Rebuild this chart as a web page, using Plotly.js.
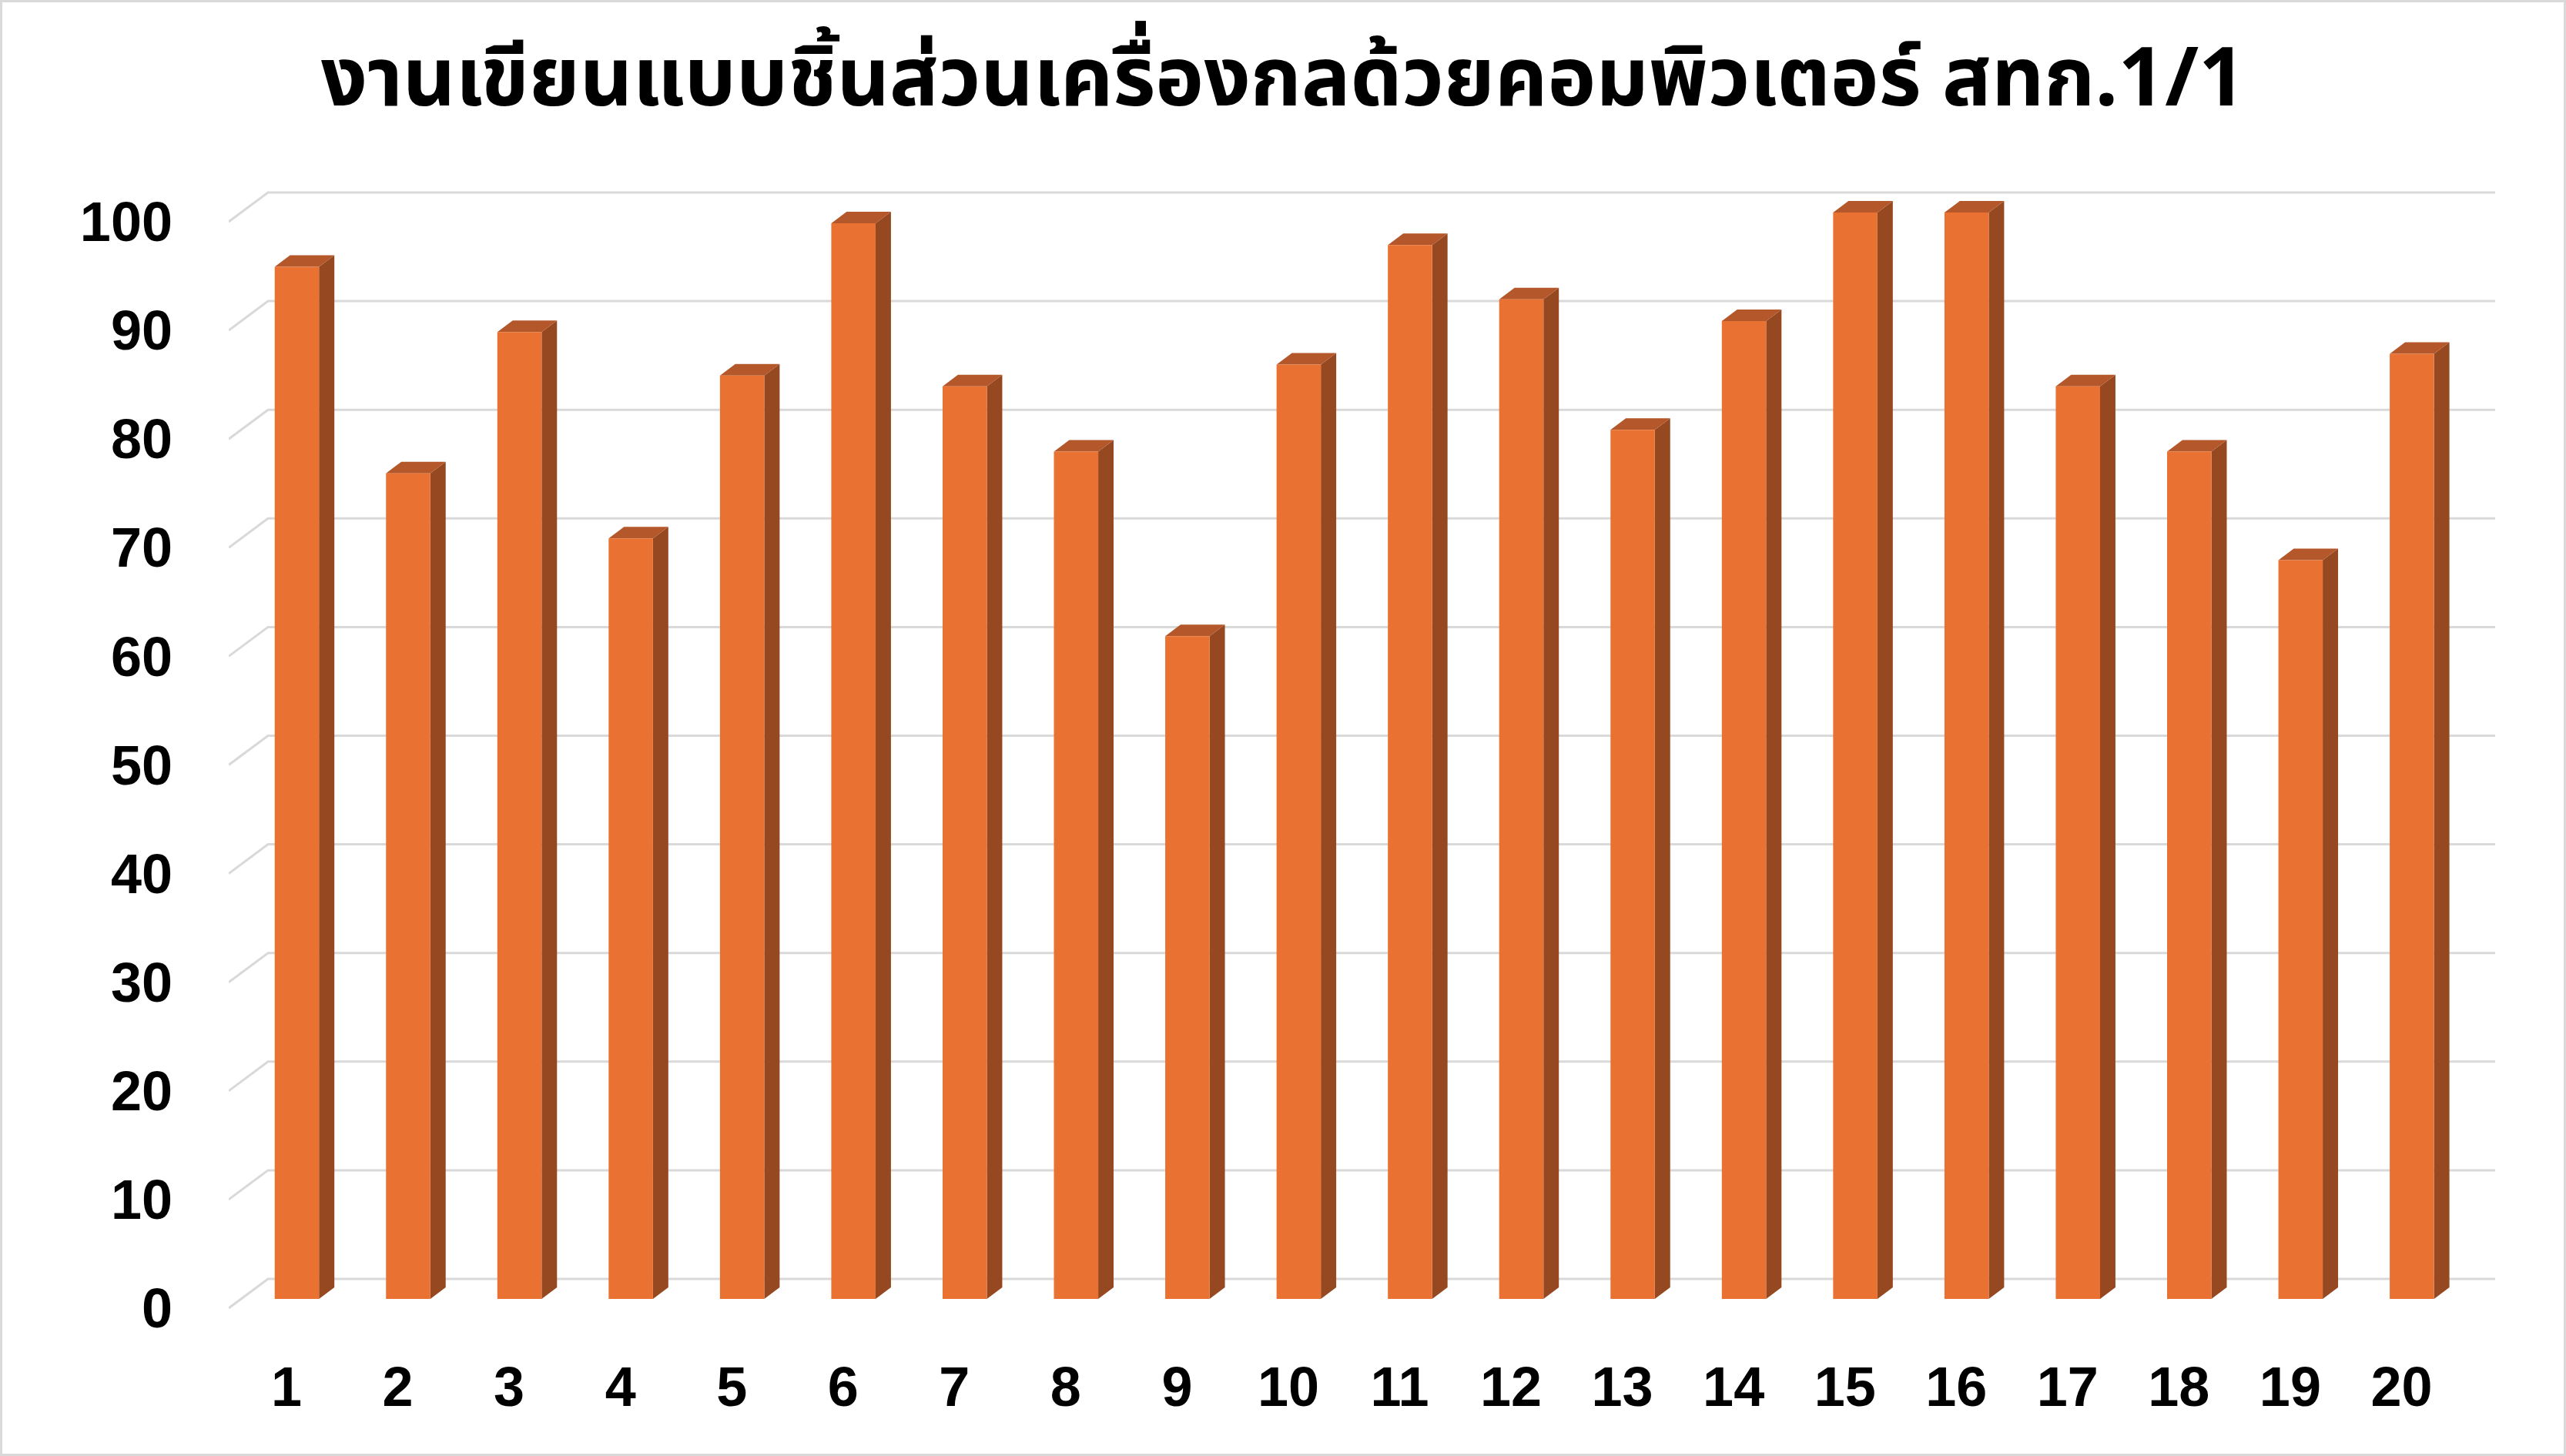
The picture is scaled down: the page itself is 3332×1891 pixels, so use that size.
<!DOCTYPE html>
<html>
<head>
<meta charset="utf-8">
<script src="https://cdn.plot.ly/plotly-3.0.1.min.js"></script>
<style>
  html, body { margin: 0; padding: 0; background: #ffffff; }
  #chart { width: 3332px; height: 1891px; position: relative; }
  #frame { position: absolute; left: 0; top: 0; width: 3332px; height: 1891px;
           box-sizing: border-box; border: 3px solid #d9d9d9; pointer-events: none; }
</style>
</head>
<body>
<div id="wrap" style="position:relative;width:3332px;height:1891px;">
  <div id="chart"></div>
  <div id="frame"></div>
</div>
<script>
// ---- data ----
const chartTitle = 'งานเขียนแบบชิ้นส่วนเครื่องกลด้วยคอมพิวเตอร์ สทก.1/1';
const categories = ['1','2','3','4','5','6','7','8','9','10','11','12','13','14','15','16','17','18','19','20'];
const scores = [95, 76, 89, 70, 85, 99, 84, 78, 61, 86, 97, 92, 80, 90, 100, 100, 84, 78, 68, 87];
const yTickValues = [0, 10, 20, 30, 40, 50, 60, 70, 80, 90, 100];
const yTickLabels = ['0','10','20','30','40','50','60','70','80','90','100'];

// ---- style / projection constants (3-D look) ----
const X_RANGE = [0.481, 20.841];
const Y_RANGE = [-0.78, 103.40];
const BAR_SHIFT = 0.093, BAR_HALF = 0.199;
const DEPTH_DX = 0.138, DEPTH_DY = 1.063, BAR_BASE = 0.85;
const GRID_DX = 0.353, GRID_DY = 2.693;
const FRONT = '#e97132', SIDE = '#964820', TOP = '#b4572a', GRID = '#d9d9d9';

// gridlines (floor-to-back-wall projection)
const gx = [], gy = [];
yTickValues.forEach(v => {
  gx.push(X_RANGE[0], X_RANGE[0] + GRID_DX, X_RANGE[1], null);
  gy.push(v, v + GRID_DY, v + GRID_DY, null);
});

// bar faces from data
const fx = [], fy = [], sx = [], sy = [], tx = [], ty = [];
scores.forEach((s, i) => {
  const c = i + 1 + BAR_SHIFT;
  const l = c - BAR_HALF, r = c + BAR_HALF;
  const b = BAR_BASE, t = s + BAR_BASE;
  fx.push(l, r, r, l, l, null); fy.push(b, b, t, t, b, null);
  sx.push(r, r + DEPTH_DX, r + DEPTH_DX, r, r, null);
  sy.push(b, b + DEPTH_DY, t + DEPTH_DY, t, b, null);
  tx.push(l, r, r + DEPTH_DX, l + DEPTH_DX, l, null);
  ty.push(t, t, t + DEPTH_DY, t + DEPTH_DY, t, null);
});

const poly = (x, y, color) => ({
  type: 'scatter', mode: 'lines', x: x, y: y, fill: 'toself', fillcolor: color,
  line: { width: 0, color: color }, hoverinfo: 'skip', showlegend: false
});

const traces = [
  { type: 'scatter', mode: 'lines', x: gx, y: gy, line: { color: GRID, width: 3 },
    hoverinfo: 'skip', showlegend: false },
  poly(sx, sy, SIDE),
  poly(tx, ty, TOP),
  poly(fx, fy, FRONT)
];

const tickFont = { family: 'Liberation Sans, Arial, sans-serif', size: 72, color: '#000000', weight: 'bold' };

const layout = {
  width: 3332, height: 1891,
  paper_bgcolor: '#ffffff', plot_bgcolor: 'rgba(0,0,0,0)',
  margin: { l: 297, r: 92, t: 240, b: 181, pad: 0 },
  showlegend: false,
  hovermode: false,
  title: {
    text: chartTitle,
    font: { family: 'Noto Sans Thai, Tahoma, Liberation Sans, Noto Sans, DejaVu Sans, sans-serif', size: 106, color: '#000000', weight: 'bold' },
    x: 0.5, xanchor: 'center', xref: 'container',
    y: 1 - 100 / 1891, yanchor: 'middle', yref: 'container'
  },
  xaxis: {
    range: X_RANGE, tickmode: 'array',
    tickvals: categories.map((c, i) => i + 1), ticktext: categories,
    showgrid: false, zeroline: false, showline: false, ticks: '',
    tickfont: tickFont, ticklabelstandoff: 43, fixedrange: true
  },
  yaxis: {
    range: Y_RANGE, tickmode: 'array', tickvals: yTickValues, ticktext: yTickLabels,
    showgrid: false, zeroline: false, showline: false, ticks: '',
    tickfont: tickFont, ticklabelstandoff: 72, fixedrange: true
  }
};

Plotly.newPlot('chart', traces, layout, { displayModeBar: false, staticPlot: true });
</script>
</body>
</html>
